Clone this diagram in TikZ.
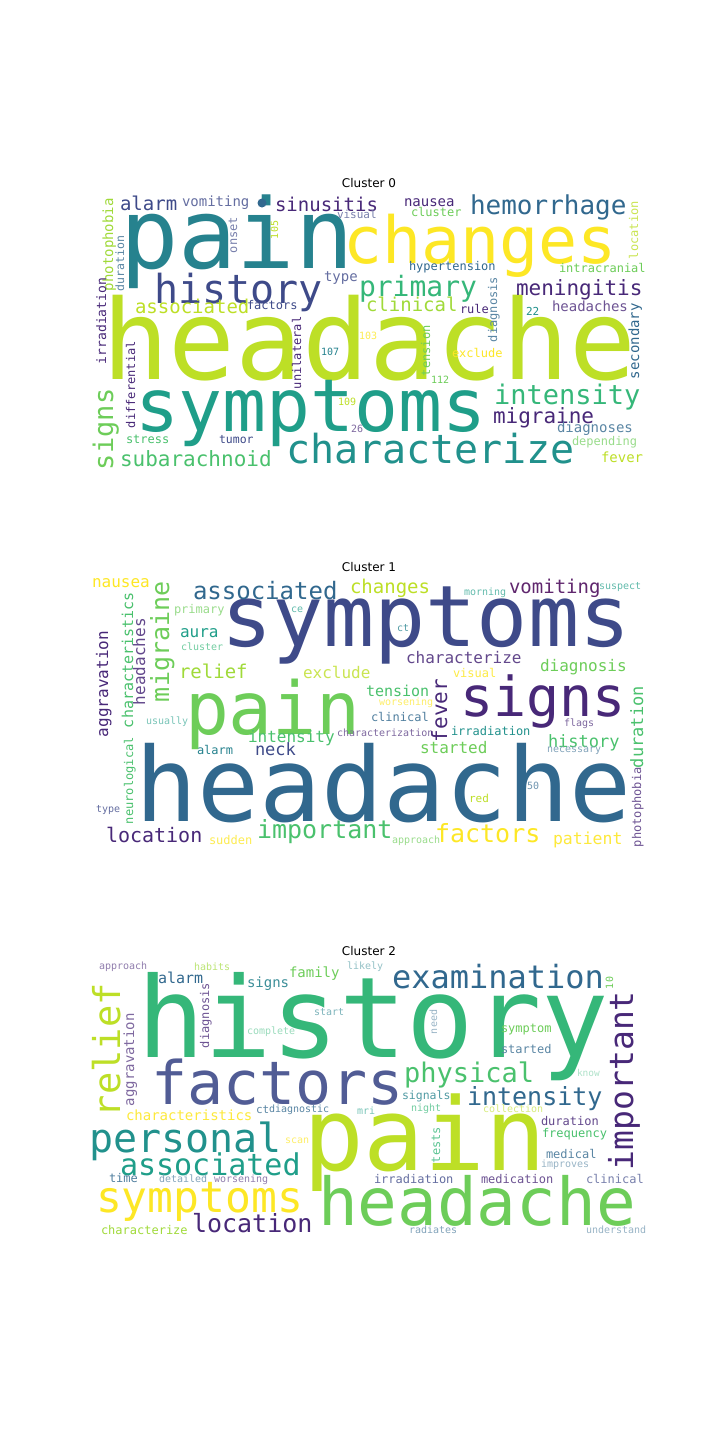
\documentclass[tikz,border=0pt]{standalone}
\usepackage{fontspec}
\setmainfont{DejaVu Sans}
\newfontfamily\cloudfont{DejaVu Sans Mono}
\usepackage{xcolor}
\usepackage{tikz}
\definecolor{vA}{HTML}{440154}
\definecolor{vB}{HTML}{482878}
\definecolor{vC}{HTML}{3E4A89}
\definecolor{vD}{HTML}{31688E}
\definecolor{vE}{HTML}{26828E}
\definecolor{vEF}{HTML}{21918C}
\definecolor{vF}{HTML}{1F9E89}
\definecolor{vG}{HTML}{35B779}
\definecolor{vGH}{HTML}{4AC16D}
\definecolor{vH}{HTML}{6DCD59}
\definecolor{vHI}{HTML}{A0DA39}
\definecolor{vI}{HTML}{BDDF26}
\definecolor{vJ}{HTML}{FDE725}

\begin{document}
\begin{tikzpicture}[
  x=1pt,y=-1pt,
  word/.style={inner sep=0pt,outer sep=0pt,anchor=base west,font=\fontsize{#1}{#1}\selectfont\cloudfont},
  vword/.style={word=#1,rotate=90},
  title/.style={inner sep=0pt,anchor=base,font=\fontsize{12}{12}\selectfont,text=black}
]
\useasboundingbox (0,0) rectangle (720,1440);
\fill[white] (0,0) rectangle (720,1440);

% cluster 0
\node[title] (t0) at (369,187) {Cluster 0};
\foreach \w/\x/\y/\s/\c in {headache/102/379/111/vI, pain/120/268/97/vE, changes/343/263/65/vJ,
  symptoms/135/431/73/vF, history/154/303/40/vC, characterize/286/463/40/vEF, primary/359/296/28/vG,
  hemorrhage/470/214/26/vD, sinusitis/275/211/19/vB, alarm/120/210/19/vC, vomiting/182/206/14/vC!80,
  nausea/404/206/14/vB, cluster/411/216/12/vH, visual/337/218/11/vC!70, hypertension/409/270/12/vD,
  intracranial/559/272/12/vH, meningitis/516/295/21/vB, clinical/366/311/19/vHI, rule/460/313/12/vB,
  headaches/552/311/14/vB!80, 22/526/315/11/vEF, associated/135/313/19/vI, factors/247/309/12/vC,
  type/324/281/14/vC!80, exclude/452/357/12/vJ, 103/359/339/10/vJ!80, 112/431/383/10/vH,
  107/321/355/10/vE, 109/338/405/10/vI, 26/351/432/10/vB!70, intensity/494/404/27/vG,
  migraine/493/423/21/vB, diagnoses/557/432/14/vD!80, depending/572/445/12/vH!70, fever/601/462/14/vI,
  stress/126/443/12/vGH, tumor/219/443/11.5/vC, subarachnoid/120/466/21/vGH} {
  \node[word=\s,text=\c] (c0-\w) at (\x,\y) {\w};
}
\foreach \w/\x/\y/\s/\c in {photophobia/113/291/14/vHI, duration/124/291/11.5/vD!80,
  irradiation/106/364/13/vB, onset/237/253/12/vC!70, 105/278/239/10/vI, location/638/259/12/vI!80,
  diagnosis/497/342/12/vD!80, secondary/639/379/14/vD, tension/430/376/12/vH, signs/113/470/27/vH,
  differential/135/428/12/vB, unilateral/301/389/12/vB} {
  \node[vword=\s,text=\c] (c0-\w) at (\x,\y) {\w};
}
\node[circle,fill=vD,inner sep=0pt,minimum size=9pt] (c0-dot) at (262,203) {};

% cluster 1
\node[title] (t1) at (369,571) {Cluster 1};
\foreach \w/\x/\y/\s/\c in {headache/135/821/103/vD, symptoms/221/646/85/vC, pain/185/734/73/vH,
  signs/460/716/55/vB, associated/193/599/24/vD, changes/350/593/19/vI, vomiting/509/593/19/vA!85,
  suspect/599/589/10/vF!70, morning/464/595/10/vF!70, nausea/92/587/16/vJ, primary/174/613/12/vH!70,
  ce/291/612/10/vF!70, aura/180/637/16/vF, cluster/181/650/10/vG!70, relief/179/678/19/vHI,
  exclude/303/678/16/vI!80, ct/397/631/10/vE!80, characterize/406/663/16/vB!85, diagnosis/540/671/16/vH,
  visual/453/677/12/vJ!85, tension/366/696/15/vGH, intensity/248/742/16/vGH,
  characterization/337/736/10/vB!70, usually/146/724/10/vF!60, alarm/197/754/12/vE, neck/255/755/17/vC,
  type/96/812/10/vC!80, location/106/842/20/vB, sudden/209/844/12/vJ!80, important/257/838/25/vGH,
  factors/435/842/25/vJ, approach/392/843/10/vH!70, patient/553/844/16.5/vJ!90, history/548/747/17/vGH,
  necessary/547/752/10/vD!60, flags/564/726/10/vB!70, irradiation/451/735/12/vEF, started/420/753/16/vH,
  clinical/371/721/12/vD!85, worsening/379/705/10/vJ!70, 50/527/789/10/vD!70, red/469/802/11/vI} {
  \node[word=\s,text=\c] (c1-\w) at (\x,\y) {\w};
}
\foreach \w/\x/\y/\s/\c in {migraine/169/702/25/vH, characteristics/133/728/15/vGH,
  headaches/145/705/16/vB!85, aggravation/108/737/16/vB, neurological/133/824/12/vGH,
  fever/447/742/21/vB, photophobia/641/847/12/vB!80, duration/643/768/17/vGH} {
  \node[vword=\s,text=\c] (c1-\w) at (\x,\y) {\w};
}

% cluster 2
\node[title] (t2) at (369,955) {Cluster 2};
\foreach \w/\x/\y/\s/\c in {history/137/1057/112/vG, pain/303/1170/101/vI, headache/318/1225/66/vH,
  factors/151/1104/60/vC!90, examination/392/988/32/vD, personal/89/1152/40/vEF,
  associated/120/1175/30/vF, symptoms/96/1212/43/vJ, location/192/1232/25/vB,
  characterize/101/1234/12/vHI, characteristics/126/1120/14/vJ!90, ct/256/1113/11/vD!80,
  diagnostic/269/1112/10/vD!80, approach/99/969/10/vB!60, habits/194/970/10/vHI!70, alarm/158/983/15/vD,
  signs/247/987/14/vE!90, family/289/977/14/vH, likely/347/969/10/vE!50, start/314/1015/10/vE!60,
  complete/247/1034/10/vG!50, symptom/501/1032/12/vH, started/501/1053/12/vD!80, physical/404/1082/27/vGH,
  know/577/1076/9.5/vG!40, intensity/467/1105/25/vD, signals/402/1099/11.5/vE!80, night/411/1111/10/vG!70,
  collection/483/1112/10/vI!60, mri/357/1114/10/vF!60, duration/541/1125/12/vB!85,
  frequency/542/1137/12/vGH, medical/546/1158/12/vD!80, improves/541/1167/10/vD!50,
  irradiation/374/1183/12/vC!80, medication/481/1183/12/vB!80, clinical/586/1183/12/vC!70,
  radiates/409/1233/10/vD!60, understand/586/1233/10/vD!50, time/109/1182/12/vD!85,
  detailed/159/1182/10/vD!60, worsening/214/1182/10/vB!60, scan/285/1143/10/vJ!70} {
  \node[word=\s,text=\c] (c2-\w) at (\x,\y) {\w};
}
\foreach \w/\x/\y/\s/\c in {important/633/1170/33/vB, relief/120/1117/37/vI, aggravation/134/1106/14/vB!70,
  diagnosis/209/1048/12/vB!80, 10/613/989/10/vH, need/437/1034/10/vD!50, tests/440/1163/12/vG!80} {
  \node[vword=\s,text=\c] (c2-\w) at (\x,\y) {\w};
}
\end{tikzpicture}
\end{document}
